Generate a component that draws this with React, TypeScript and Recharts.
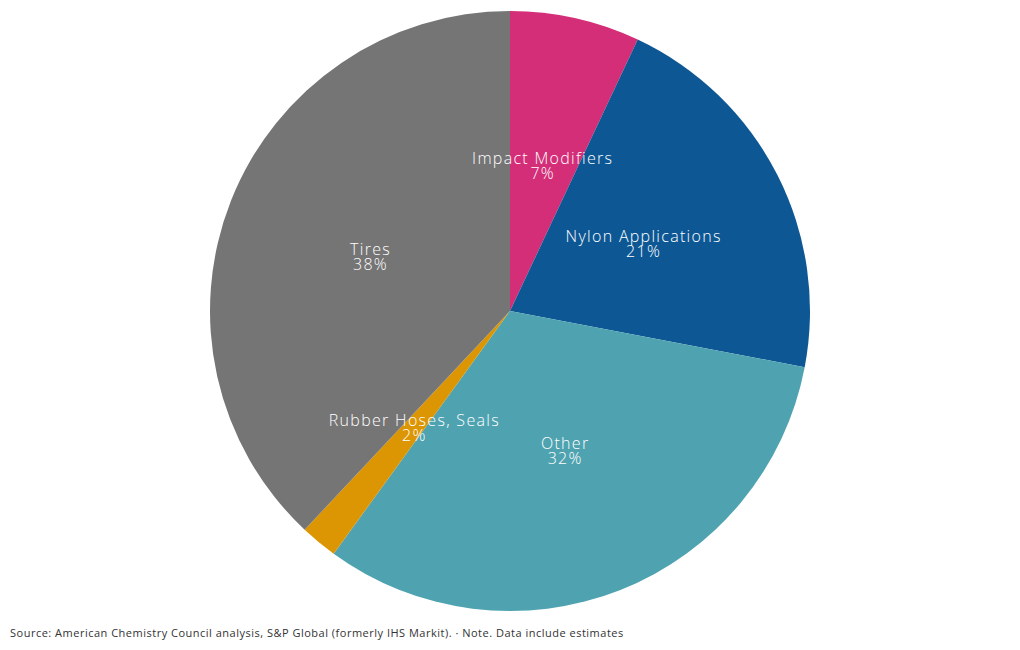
import React from 'react'
import { PieChart, Pie, Cell } from 'recharts'

const categories = ['Impact Modifiers', 'Nylon Applications', 'Other', 'Rubber Hoses, Seals', 'Tires']
const shares = [7, 21, 32, 2, 38]
const colors = ['#d42e78', '#0d5894', '#4fa3b0', '#dc9604', '#757575']
const sourceNote =
  'Source: American Chemistry Council analysis, S&P Global (formerly IHS Markit). \u00b7 Note. Data include estimates'

const data = categories.map((name, i) => ({ name, value: shares[i] }))

const RADIAN = Math.PI / 180

// labels sit at half the radius, name on top and the percent below
function renderLabel(props: any) {
  const { cx, cy, midAngle, outerRadius, name, value } = props
  const r = outerRadius * 0.5
  const x = cx + r * Math.cos(-midAngle * RADIAN)
  const y = cy + r * Math.sin(-midAngle * RADIAN)
  return (
    <text
      x={x}
      y={y}
      fill="#ffffff"
      textAnchor="middle"
      fontFamily="'Open Sans', sans-serif"
      fontSize={16}
      fontWeight={300}
      letterSpacing={1.3}
    >
      <tspan x={x} dy={-1}>{name}</tspan>
      <tspan x={x} dy={15}>{`${value}%`}</tspan>
    </text>
  )
}

export default function App() {
  return (
    <div
      style={{
        position: 'absolute',
        left: 0,
        top: 0,
        width: 1020,
        height: 650,
        background: '#ffffff',
        fontFamily: "'Open Sans', sans-serif",
      }}
    >
      <PieChart width={1020} height={650} margin={{ top: 0, right: 0, bottom: 0, left: 0 }}>
        <Pie
          data={data}
          dataKey="value"
          nameKey="name"
          cx={510}
          cy={311}
          outerRadius={300}
          startAngle={90}
          endAngle={-270}
          stroke="none"
          labelLine={false}
          label={renderLabel}
          isAnimationActive={false}
        >
          {data.map((d, i) => (
            <Cell key={d.name} fill={colors[i]} />
          ))}
        </Pie>
      </PieChart>
      <div
        style={{
          position: 'absolute',
          left: 10,
          top: 625,
          fontSize: 11,
          letterSpacing: 0.5,
          color: '#333333',
          whiteSpace: 'nowrap',
        }}
      >
        {sourceNote}
      </div>
    </div>
  )
}
